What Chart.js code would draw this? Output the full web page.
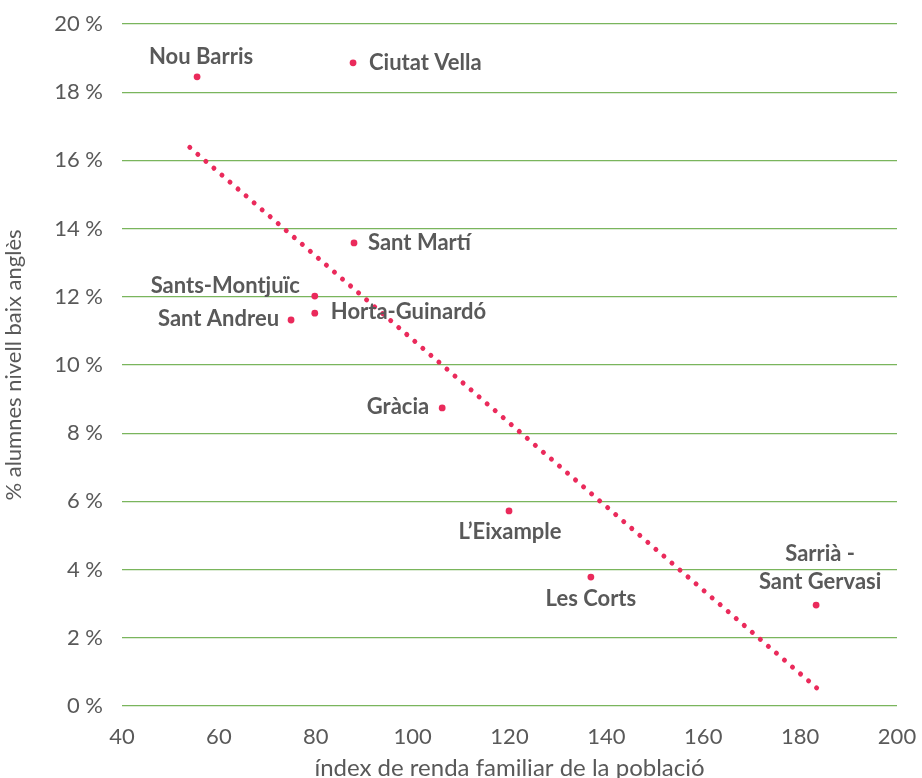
<!DOCTYPE html>
<html>
<head>
<meta charset="utf-8">
<script src="https://cdn.jsdelivr.net/npm/chart.js@4/dist/chart.umd.min.js"></script>
<style>
	body { margin: 0; background: #fff; }
	canvas { display: block; }
</style>
</head>
<body>
<canvas id="chart" width="922" height="778"></canvas>
<script>
// districtes de Barcelona
let districtes = ["Nou Barris", "Ciutat Vella", "Sant Martí", "Sants-Montjuïc", "Horta-Guinardó",
	"Sant Andreu", "Gràcia", "L’Eixample", "Les Corts", ["Sarrià -", "Sant Gervasi"]];
let renda = [55.5, 87.7, 87.9, 79.8, 79.8, 74.9, 106.1, 119.9, 136.8, 183.3];
let baixAngles = [18.45, 18.86, 13.58, 12.02, 11.52, 11.32, 8.74, 5.72, 3.78, 2.96];
// linia de tendencia (llegida del grafic)
let tendenciaX = [54.0, 183.5];
let tendenciaY = [16.38, 0.52];
let xTicks = [40, 60, 80, 100, 120, 140, 160, 180, 200];
let yTicks = [0, 2, 4, 6, 8, 10, 12, 14, 16, 18, 20];

// on va cada etiqueta respecte del punt: [dx, dy, align]
let labelPos = [
	[4, -20, "center"], [16, 0, "left"], [14, 0, "left"], [-15, -10, "right"], [16, -1, "left"],
	[-12, -1, "right"], [-13, -1, "right"], [1, 21, "center"], [0, 22, "center"], [4, -51, "center"]
];

let grey = "#595959";
let pink = "#ea2a5b";

let points = [];
for (let i = 0; i < renda.length; i++) {
	points.push({x: renda[i], y: baixAngles[i]});
}
let trend = [];
for (let i = 0; i < tendenciaX.length; i++) {
	trend.push({x: tendenciaX[i], y: tendenciaY[i]});
}

const labelsPlugin = {
	id: "pointLabels",
	afterDatasetsDraw(chart) {
		let ctx = chart.ctx;
		let meta = chart.getDatasetMeta(1);
		ctx.save();
		ctx.font = "bold 22px Lato";
		ctx.fillStyle = grey;
		ctx.textBaseline = "middle";
		meta.data.forEach((pt, i) => {
			let p = labelPos[i];
			let txt = districtes[i];
			ctx.textAlign = p[2];
			if (Array.isArray(txt)) {
				txt.forEach((line, j) => {
					ctx.fillText(line, pt.x + p[0], pt.y + p[1] + j * 28);
				});
			} else {
				ctx.fillText(txt, pt.x + p[0], pt.y + p[1]);
			}
		});
		ctx.restore();
	}
};

var ctx = document.getElementById("chart");
var chart = new Chart(ctx, {
	type: "scatter",
	data: {
		datasets: [{
			type: "line",
			label: "tendència",
			data: trend,
			showLine: true,
			fill: false,
			borderColor: pink,
			borderWidth: 5,
			borderCapStyle: "round",
			borderDash: [0.01, 10.6],
			pointRadius: 0
		}, {
			label: "districtes",
			data: points,
			backgroundColor: pink,
			borderColor: pink,
			pointRadius: 3.4,
			pointBorderWidth: 0
		}]
	},
	options: {
		responsive: false,
		animation: false,
		layout: { padding: { left: 1, top: 24, right: 25, bottom: 0 } },
		plugins: {
			legend: { display: false },
			tooltip: { enabled: false }
		},
		scales: {
			x: {
				type: "linear",
				min: 40,
				max: 200,
				afterBuildTicks: (s) => { s.ticks = xTicks.map(v => ({value: v})); },
				afterFit: (s) => {
					s.height = 72;
					s.paddingLeft = 0;
					s.paddingRight = 0;
				},
				grid: { display: false },
				border: { display: false },
				ticks: { color: grey, font: { family: "Lato", size: 22 }, padding: 10 },
				title: {
					display: true,
					text: "índex de renda familiar de la població",
					color: grey,
					font: { family: "Lato", size: 24 },
					padding: { top: 0, bottom: -5 }
				}
			},
			y: {
				min: 0,
				max: 20,
				afterBuildTicks: (s) => { s.ticks = yTicks.map(v => ({value: v})); },
				afterFit: (s) => {
					s.width = 121;
					s.paddingTop = 0;
					s.paddingBottom = 0;
				},
				grid: { color: "#7ab55c", lineWidth: 1.3, drawTicks: false },
				border: { display: false },
				ticks: {
					color: grey,
					font: { family: "Lato", size: 22 },
					padding: 19,
					callback: (v) => v + " %"
				},
				title: {
					display: true,
					text: "% alumnes nivell baix anglès",
					color: grey,
					font: { family: "Lato", size: 22 },
					padding: 0
				}
			}
		}
	},
	plugins: [labelsPlugin]
});
</script>
</body>
</html>
